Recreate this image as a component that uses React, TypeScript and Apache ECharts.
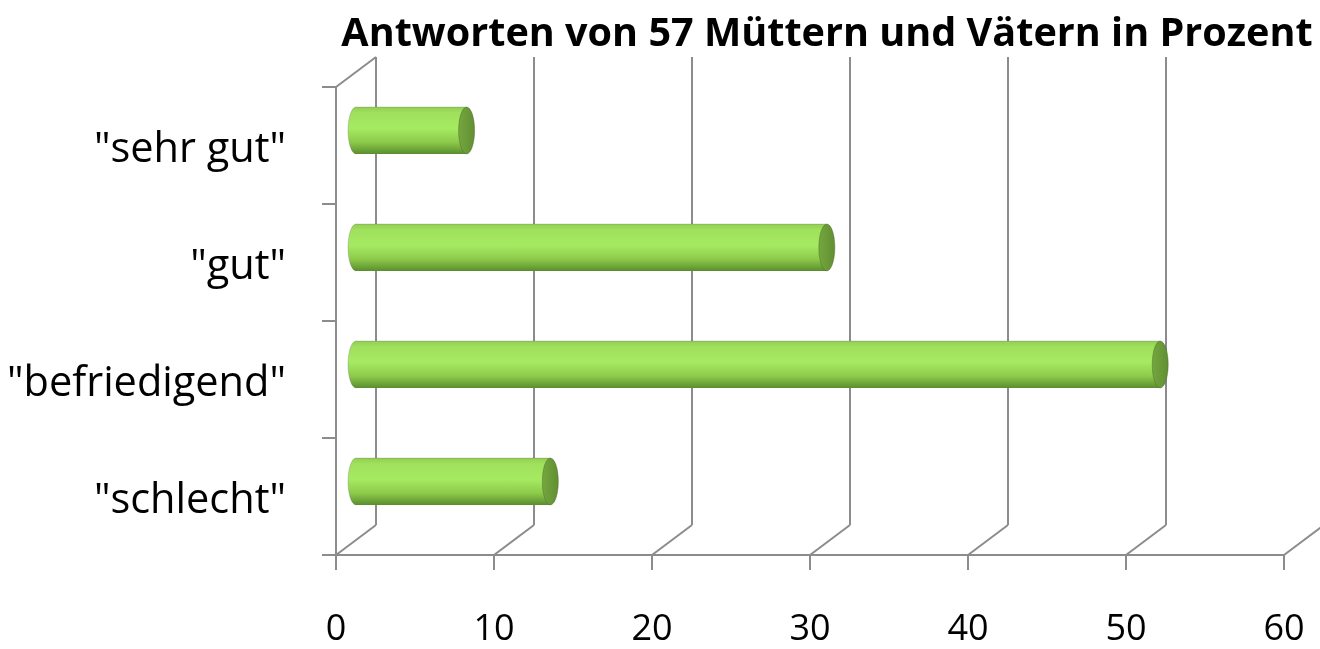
import React, { useEffect, useRef } from "react";
import * as echarts from "echarts";

const titleText = "Antworten von 57 Müttern und Vätern in Prozent";
const categories = ['"sehr gut"', '"gut"', '"befriedigend"', '"schlecht"'];
const values = [7.0, 29.8, 50.9, 12.3];
const xTicks = [0, 10, 20, 30, 40, 50, 60];

const DX = 40;
const DY = -30;
const LINE = "#8c8c8c";
const FONT = "'Open Sans', 'Noto Sans', sans-serif";

export default function App() {
  const ref = useRef<HTMLDivElement>(null);
  useEffect(() => {
    const chart = echarts.init(ref.current!, null, { renderer: "svg" });
    const bodyGrad = new echarts.graphic.LinearGradient(0, 0, 0, 1, [
      { offset: 0, color: "#93cf52" },
      { offset: 0.12, color: "#9fe05c" },
      { offset: 0.45, color: "#a6ea62" },
      { offset: 0.75, color: "#8dca4a" },
      { offset: 1, color: "#5a8e2e" },
    ]);
    const capGrad = new echarts.graphic.LinearGradient(0, 0, 1, 0, [
      { offset: 0, color: "#74a63e" },
      { offset: 1, color: "#628f33" },
    ]);
    chart.setOption({
      animation: false,
      title: {
        text: titleText,
        left: 822,
        textAlign: "center",
        top: 2,
        textStyle: { fontFamily: FONT, fontWeight: "bold", fontSize: 39.6, lineHeight: 48, color: "#000" },
      },
      grid: { left: 336, right: 36, top: 87, bottom: 94 },
      xAxis: {
        type: "value",
        min: 0,
        max: 60,
        interval: 10,
        axisLine: { show: true, lineStyle: { color: LINE, width: 2 } },
        axisTick: { show: true, length: 15, lineStyle: { color: LINE, width: 2 } },
        axisLabel: { fontFamily: FONT, fontSize: 36, lineHeight: 36, color: "#000", margin: 53 },
        splitLine: { show: false },
      },
      yAxis: {
        type: "category",
        data: categories,
        inverse: true,
        axisLine: { show: true, lineStyle: { color: LINE, width: 2 } },
        axisTick: { show: true, length: 14, lineStyle: { color: LINE, width: 2 } },
        axisLabel: { fontFamily: FONT, fontSize: 41.5, color: "#000", margin: 50 },
      },
      series: [
        {
          type: "custom",
          z: 1,
          silent: true,
          clip: false,
          data: xTicks.map((t) => [t]),
          renderItem: (params: any, api: any) => {
            const cs = params.coordSys;
            const v = api.value(0);
            const x = api.coord([v, 0])[0];
            const yb = cs.y + cs.height;
            const yt = cs.y;
            const children: any[] = [
              {
                type: "line",
                shape: { x1: x, y1: yb, x2: x + DX, y2: yb + DY },
                style: { stroke: LINE, lineWidth: 2 },
              },
              {
                type: "line",
                shape: { x1: x + DX, y1: yb + DY, x2: x + DX, y2: yt + DY },
                style: { stroke: LINE, lineWidth: 2 },
              },
            ];
            if (v === 0) {
              children.push({
                type: "line",
                shape: { x1: x, y1: yt, x2: x + DX, y2: yt + DY },
                style: { stroke: LINE, lineWidth: 2 },
              });
            }
            return { type: "group", children };
          },
        },
        {
          type: "custom",
          z: 5,
          clip: false,
          data: values.map((v, i) => [v, i]),
          renderItem: (params: any, api: any) => {
            const v = api.value(0);
            const i = api.value(1);
            const p0 = api.coord([0, i]);
            const p1 = api.coord([v, i]);
            const band = api.size([0, 1])[1];
            const h = band * 0.4;
            const rx = 8;
            const cy = p0[1] + DY / 2;
            const x0 = p0[0] + DX / 2;
            const x1 = p1[0] + DX / 2;
            return {
              type: "group",
              children: [
                {
                  type: "ellipse",
                  shape: { cx: x0, cy, rx, ry: h / 2 },
                  style: { fill: bodyGrad, stroke: "rgba(90,90,90,0.25)", lineWidth: 1 },
                },
                {
                  type: "rect",
                  shape: { x: x0, y: cy - h / 2, width: x1 - x0, height: h },
                  style: { fill: bodyGrad },
                },
                {
                  type: "line",
                  shape: { x1: x0, y1: cy - h / 2, x2: x1, y2: cy - h / 2 },
                  style: { stroke: "rgba(90,90,90,0.25)", lineWidth: 1 },
                },
                {
                  type: "ellipse",
                  shape: { cx: x1, cy, rx, ry: h / 2 },
                  style: { fill: capGrad, stroke: "rgba(70,100,40,0.4)", lineWidth: 1 },
                },
              ],
            };
          },
        },
      ],
    });
    return () => chart.dispose();
  }, []);
  return (
    <div
      ref={ref}
      style={{ position: "fixed", left: 0, top: 0, width: 1320, height: 649 }}
    />
  );
}
